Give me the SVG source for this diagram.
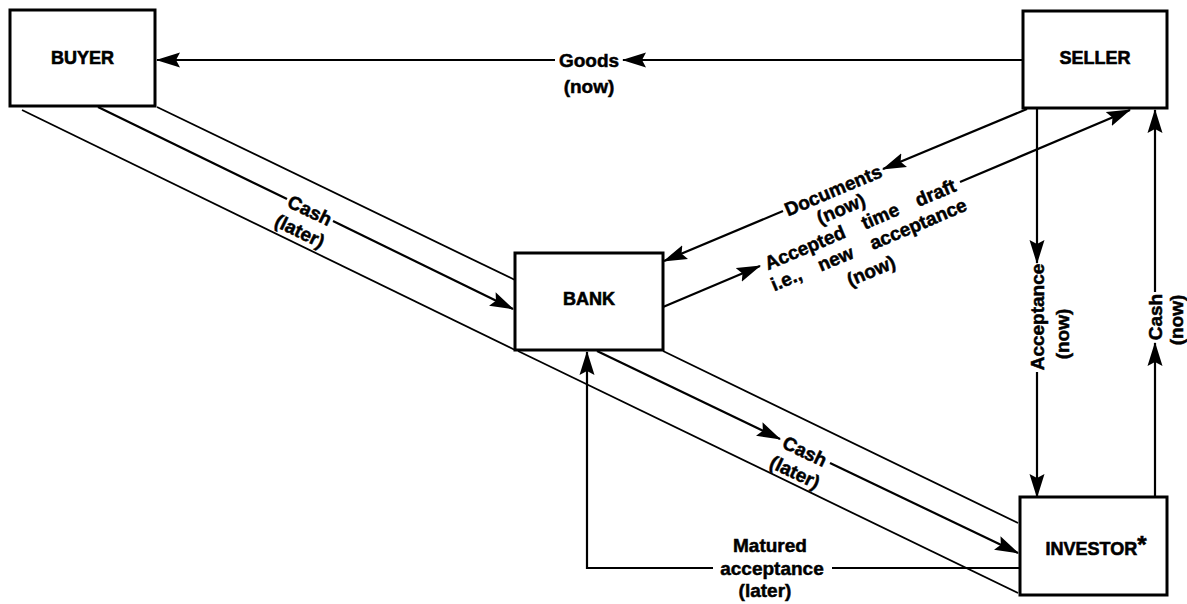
<svg xmlns="http://www.w3.org/2000/svg" width="1187" height="604" viewBox="0 0 1187 604">
  <style>
    .box { fill: #ffffff; stroke: #000000; stroke-width: 3; }
    .node-label { font-family: "Liberation Sans", Arial, sans-serif; font-weight: bold; font-size: 18px; fill: #000000; stroke: #000000; stroke-width: 0.6; text-anchor: middle; }
    .lbl { font-family: "Liberation Sans", Arial, sans-serif; font-weight: bold; font-size: 19px; fill: #000000; stroke: #000000; stroke-width: 0.5; text-anchor: middle; }
    .edge { fill: none; stroke: #000000; stroke-width: 2.2; }
    .band { fill: none; stroke: #000000; stroke-width: 1.8; }
    .arr { marker-end: url(#ah); }
  </style>
  <defs>
    <marker id="ah" markerUnits="userSpaceOnUse" markerWidth="24" markerHeight="16" viewBox="0 0 24 16" refX="23" refY="8" orient="auto">
      <path d="M0,0.5 L24,8 L0,15.5 L4,8 z" fill="#000000"/>
    </marker>
  </defs>
  <rect width="1187" height="604" fill="#ffffff"/>

  <g id="connectors">
    <!-- Goods (now) -->
    <path class="edge arr" d="M1023,60 L623,60"/>
    <path class="edge arr" d="M555,60 L157,60"/>
    <!-- Band buyer to bank -->
    <path class="band" d="M157,107 L515,280"/>
    <path class="band" d="M22,110 L515,350"/>
    <path class="edge" d="M98,107 L287,199"/>
    <path class="edge arr" d="M333,221 L513,309"/>
    <!-- Band bank to investor -->
    <path class="band" d="M663,351 L1018,523"/>
    <path class="band" d="M518,351 L1018,593"/>
    <path class="edge arr" d="M597,351 L780,439"/>
    <path class="edge arr" d="M830,463 L1018,553"/>
    <!-- Documents (now) -->
    <path class="edge arr" d="M1027,109 L883,169"/>
    <path class="edge arr" d="M783,211 L664,261"/>
    <!-- Accepted time draft -->
    <path class="edge arr" d="M663,307 L760,266"/>
    <path class="edge arr" d="M960,182 L1130,110"/>
    <!-- Acceptance (now) -->
    <path class="edge arr" d="M1037,108 L1037,263"/>
    <path class="edge arr" d="M1037,372 L1037,497"/>
    <!-- Cash (now) -->
    <path class="edge arr" d="M1155,497 L1155,343"/>
    <path class="edge arr" d="M1155,292 L1155,110"/>
    <!-- Matured acceptance (later) -->
    <path class="edge" d="M1020,568 L832,568"/>
    <path class="edge arr" d="M713,568 L587,568 L587,352"/>
  </g>

  <g id="edge-labels">
    <text class="lbl" x="589" y="67">Goods</text>
    <text class="lbl" x="589" y="93">(now)</text>

    <g transform="translate(310,210) rotate(25.9)">
      <text class="lbl" x="0" y="7">Cash</text>
      <text class="lbl" x="0" y="30">(later)</text>
    </g>
    <g transform="translate(805,451) rotate(25.6)">
      <text class="lbl" x="0" y="7">Cash</text>
      <text class="lbl" x="0" y="30">(later)</text>
    </g>

    <g transform="translate(833,190) rotate(-22.8)">
      <text class="lbl" x="0" y="7">Documents</text>
      <text class="lbl" x="0" y="27">(now)</text>
    </g>
    <g transform="translate(860,224) rotate(-22.8)">
      <text class="lbl" x="0" y="7" style="word-spacing:14px">Accepted time draft</text>
      <text class="lbl" x="0" y="29" style="word-spacing:14px">i.e., new acceptance</text>
      <text class="lbl" x="-8" y="54">(now)</text>
    </g>

    <g transform="translate(1037,317) rotate(-90)">
      <text class="lbl" x="0" y="7">Acceptance</text>
      <text class="lbl" x="-17" y="32">(now)</text>
    </g>
    <g transform="translate(1155,317) rotate(-90)">
      <text class="lbl" x="0" y="7">Cash</text>
      <text class="lbl" x="-3" y="28">(now)</text>
    </g>

    <text class="lbl" x="770" y="552">Matured</text>
    <text class="lbl" x="772" y="575">acceptance</text>
    <text class="lbl" x="765" y="597">(later)</text>
  </g>

  <g id="buyer">
    <rect class="box" x="10" y="10" width="145" height="96"/>
    <text class="node-label" x="82.5" y="64">BUYER</text>
  </g>
  <g id="seller">
    <rect class="box" x="1023" y="11" width="144" height="97"/>
    <text class="node-label" x="1095" y="64">SELLER</text>
  </g>
  <g id="bank">
    <rect class="box" x="515" y="253" width="148" height="97"/>
    <text class="node-label" x="589" y="305">BANK</text>
  </g>
  <g id="investor">
    <rect class="box" x="1020" y="497" width="147" height="98"/>
    <text class="node-label" x="1096" y="555">INVESTOR<tspan font-size="24" dy="-2">*</tspan></text>
  </g>
</svg>
